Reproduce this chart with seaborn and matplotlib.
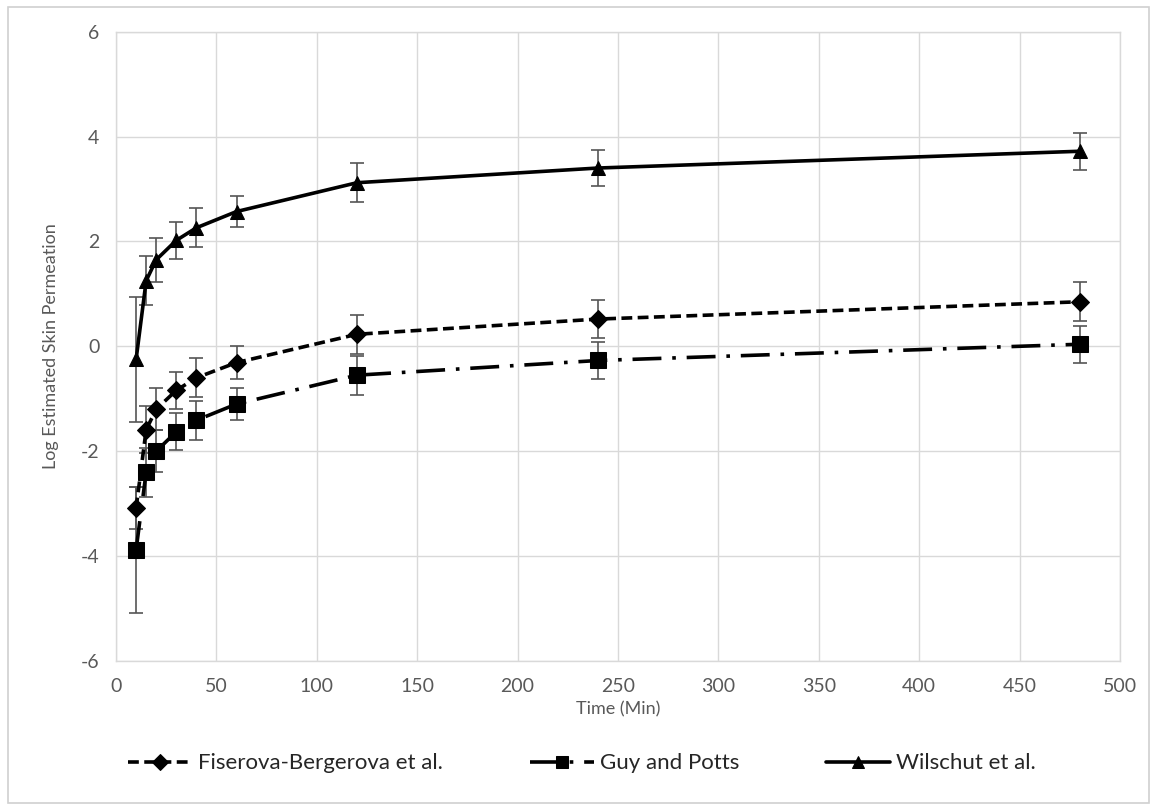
import numpy as np
import pandas as pd
import seaborn as sns
import matplotlib.pyplot as plt
from matplotlib.patches import Rectangle

# time points (min)
time = [10, 15, 20, 30, 40, 60, 120, 240, 480]

# log estimated skin permeation per model
fiserova = [-3.09, -1.59, -1.2, -0.84, -0.6, -0.31, 0.23, 0.52, 0.85]
fiserova_err = [0.4, 0.45, 0.4, 0.35, 0.37, 0.32, 0.37, 0.37, 0.37]
guy = [-3.88, -2.4, -2.0, -1.63, -1.41, -1.1, -0.55, -0.27, 0.04]
guy_err = [1.2, 0.47, 0.4, 0.35, 0.37, 0.3, 0.37, 0.35, 0.35]
wilschut = [-0.25, 1.25, 1.65, 2.02, 2.26, 2.57, 3.12, 3.4, 3.72]
wilschut_err = [1.2, 0.47, 0.42, 0.35, 0.37, 0.3, 0.37, 0.35, 0.35]

names = ["Fiserova-Bergerova et al.", "Guy and Potts", "Wilschut et al."]

sns.set_style("white")
plt.rcParams['font.family'] = ['Lato', 'DejaVu Sans']
plt.rcParams['axes.unicode_minus'] = False

fig = plt.figure(figsize=(11.51, 8.06), dpi=100)
ax = fig.add_axes([0.1008, 0.1799, 0.8723, 0.7808])

# outer chart border
fig.patches.append(Rectangle((8 / 1151, 3 / 806), 1141 / 1151, 796 / 806,
                             transform=fig.transFigure, fill=False,
                             edgecolor="#d0d0d0", lw=1.2))

series = [
    (fiserova, fiserova_err, (0, (3, 1.5)), "D", 9),
    (guy, guy_err, (0, (8, 3, 1, 3)), "s", 11),
    (wilschut, wilschut_err, "-", "^", 10),
]

for name, (vals, err, ls, mk, ms) in zip(names, series):
    ax.errorbar(time, vals, yerr=err, fmt="none", ecolor="#555555",
                elinewidth=1.2, capsize=5, capthick=1.2, zorder=2)
    df = pd.DataFrame({"time": time, "val": vals})
    sns.lineplot(data=df, x="time", y="val", ax=ax, color="black",
                 linewidth=2.6, linestyle=ls, marker=mk, markersize=ms,
                 markeredgecolor="black", label=name, zorder=3)

ax.set_xlim(0, 500)
ax.set_ylim(-6, 6)
ax.set_xticks(np.arange(0, 501, 50))
ax.set_yticks(np.arange(-6, 7, 2))
ax.grid(True, color="#d9d9d9", linewidth=1)
ax.set_axisbelow(True)
for sp in ax.spines.values():
    sp.set_color("#d9d9d9")
    sp.set_linewidth(1)
ax.tick_params(length=0, labelsize=14, colors="#595959", pad=12)

ax.set_xlabel("Time (Min)", fontsize=13, color="#595959", labelpad=5)
ax.set_ylabel("Log Estimated Skin Permeation", fontsize=13, color="#595959", labelpad=16)

leg = ax.legend(loc="upper center", bbox_to_anchor=(0.464, -0.115), ncol=3, frameon=False,
                fontsize=16, handlelength=2.9, columnspacing=3.9, handletextpad=0.27)
for h in leg.legend_handles:
    h.set_markersize(8)

fig.savefig("out.png", dpi=100)
